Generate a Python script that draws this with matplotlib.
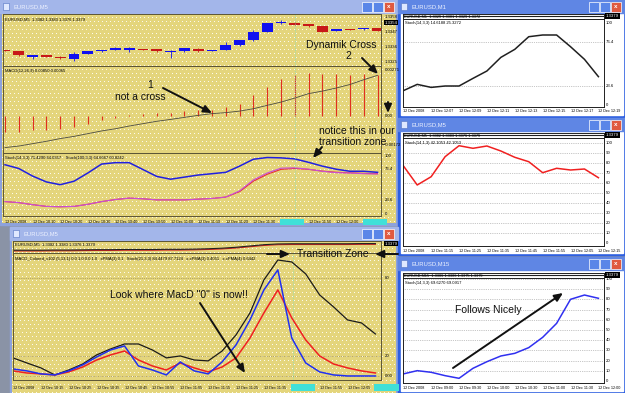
import numpy as np
import matplotlib.pyplot as plt
from matplotlib.patches import Rectangle

W, H = 625, 393
plt.rcParams['font.family'] = ['Liberation Sans', 'DejaVu Sans']

# ---------------- data ----------------
# top-left window, EURUSD M5 candles
c_open = [1.33338, 1.33328, 1.33289, 1.33297, 1.33289, 1.33272, 1.33309, 1.33326, 1.33338, 1.33338,
          1.33345, 1.33345, 1.33321, 1.33326, 1.33345, 1.33333, 1.33340, 1.33370, 1.33409, 1.33472,
          1.33534, 1.33534, 1.33524, 1.33509, 1.33477, 1.33490, 1.33487, 1.33497]
c_close = [1.33328, 1.33297, 1.33297, 1.33287, 1.33277, 1.33309, 1.33326, 1.33338, 1.33348, 1.33350,
           1.33340, 1.33326, 1.33328, 1.33350, 1.33326, 1.33338, 1.33375, 1.33411, 1.33472, 1.33534,
           1.33541, 1.33521, 1.33509, 1.33472, 1.33487, 1.33482, 1.33499, 1.33477]
c_high = [1.33340, 1.33330, 1.33297, 1.33299, 1.33290, 1.33321, 1.33328, 1.33340, 1.33362, 1.33358,
          1.33347, 1.33347, 1.33338, 1.33352, 1.33348, 1.33340, 1.33394, 1.33413, 1.33485, 1.33536,
          1.33558, 1.33538, 1.33526, 1.33511, 1.33489, 1.33492, 1.33501, 1.33499]
c_low = [1.33326, 1.33295, 1.33272, 1.33285, 1.33272, 1.33260, 1.33307, 1.33324, 1.33336, 1.33321,
         1.33338, 1.33324, 1.33277, 1.33324, 1.33324, 1.33326, 1.33338, 1.33368, 1.33405, 1.33470,
         1.33529, 1.33519, 1.33507, 1.33470, 1.33475, 1.33480, 1.33485, 1.33475]
price_ticks = [1.3358, 1.3347, 1.3336, 1.3325]
price_tick_labels = ['1.3358', '1.3347', '1.3336', '1.3325']

macd_hist = [-0.00096, -0.00094, -0.00084, -0.00084, -0.00075, -0.00065, -0.00045, -0.00026, -0.00010, 0.00004,
             0.00014, 0.00018, 0.00018, 0.00027, 0.00037, 0.00033, 0.00053, 0.00073, 0.00122, 0.00171,
             0.00220, 0.00240, 0.00253, 0.00249, 0.00245, 0.00240, 0.00245, 0.00240]
macd_signal = [-0.00186, -0.00177, -0.00163, -0.00149, -0.00133, -0.00120, -0.00104, -0.00088, -0.00075, -0.00059,
               -0.00045, -0.00031, -0.00020, -0.00008, 0.00004, 0.00014, 0.00020, 0.00029, 0.00043, 0.00063,
               0.00082, 0.00106, 0.00132, 0.00147, 0.00165, 0.00186, 0.00214, 0.00240]

stoch_fast = [84.5, 78, 64.9, 54.8, 50, 56, 70.2, 85.7, 88.1, 88.1, 76.2, 64.3, 59.5, 63.1, 66.7, 69, 71.4,
              82.1, 94, 97, 96.4, 94.6, 88.7, 82.1, 76.8, 73.2, 73.2, 71.4]
stoch_slow_main = [20.8, 19, 15.5, 12.5, 11.9, 12.5, 16.1, 20.8, 24.4, 26.8, 25.6, 23.8, 23.8, 23.8, 25, 26.2,
                   28.6, 39.3, 58.3, 70.2, 78.6, 79.2, 76.8, 73.2, 70.8, 70.2, 69, 68.5]
stoch_slow_sig = [20.8, 19, 15.5, 12.5, 11.9, 12.5, 16.1, 20.8, 24.4, 26.8, 25.6, 23.8, 23.8, 23.8, 25, 26.2,
                  28.6, 38, 56, 68, 76.5, 78, 76.5, 73.5, 71.5, 70.5, 69.5, 69]
w1_dates = ['12 Dec 2008', '12 Dec 10:10', '12 Dec 10:20', '12 Dec 10:30', '12 Dec 10:40', '12 Dec 10:50',
            '12 Dec 11:00', '12 Dec 11:10', '12 Dec 11:20', '12 Dec 11:30', '12 Dec 11:40', '12 Dec 11:50',
            '12 Dec 12:00', '12 Dec 12:10']

# bottom-left window, MACD colored / stoch overlay
w2_black = [18.5, 14.6, 10.8, 5.4, 9.2, 13.8, 20.8, 25.4, 29.2, 29.2, 24.6, 18.5, 20, 16.9, 16.2, 23.8, 36.2,
            53.1, 78.5, 93.8, 92.3, 83.1, 66.9, 57.7, 47.7, 45.4, 36.9]
w2_blue = [10, 8.5, 6.2, 5.4, 8.5, 13.1, 19.2, 24.6, 27.7, 12.3, 9.2, 5.4, 15.4, 8.5, 6.2, 15.4, 28.5, 47.7,
           70.8, 86.2, 33.8, 14.6, 7.7, 5.4, 4.6, 4.6, 4.6]
w2_red = [8.5, 6.9, 6.2, 5.4, 7.7, 11.5, 16.9, 20.8, 23.8, 16.9, 12.3, 9.2, 14.6, 10.8, 7.7, 11.5, 18.5, 33.8,
          53.1, 70.8, 49.2, 32.3, 20, 13.8, 10.8, 8.5, 6.9]
w2_price_black = [0, 0, 0, 0.1, 0.1, 0.2, 0.3, 0.3, 0.4, 0.4, 0.4, 0.5, 0.5, 0.6, 0.8, 1.1, 1.6, 2.3, 3.0,
                  3.4, 3.5, 3.5, 3.5, 3.5, 3.5, 3.6, 3.6]
w2_price_red = [-0.4, -0.4, -0.4, -0.3, -0.3, -0.2, -0.1, -0.1, 0, 0, 0, 0.1, 0.1, 0.2, 0.4, 0.7, 1.2, 1.9,
                2.6, 3.0, 3.1, 3.1, 3.1, 3.1, 3.1, 3.2, 3.2]
w2_dates = ['12 Dec 2008', '12 Dec 10:15', '12 Dec 10:25', '12 Dec 10:35', '12 Dec 10:45', '12 Dec 10:55',
            '12 Dec 11:05', '12 Dec 11:15', '12 Dec 11:25', '12 Dec 11:35', '12 Dec 11:45', '12 Dec 11:55',
            '12 Dec 12:05', '12 Dec 12:15']

# right column
m1_stoch = [17.5, 25.2, 21.5, 23.2, 23.2, 32.5, 41.5, 58.1, 67.9, 83.3, 85.4, 85.4, 71.1, 55.7, 34.6]
m1_dates = ['12 Dec 2008', '12 Dec 12:07', '12 Dec 12:09', '12 Dec 12:11', '12 Dec 12:13', '12 Dec 12:15',
            '12 Dec 12:17', '12 Dec 12:19']
m5_stoch = [77.6, 58.3, 66.6, 86.6, 97.6, 95, 97.3, 92.3, 86, 81.6, 70.6, 75, 73.3, 74.3, 65.6]
m5_dates = ['12 Dec 2008', '12 Dec 11:15', '12 Dec 11:25', '12 Dec 11:35', '12 Dec 11:45', '12 Dec 11:55',
            '12 Dec 12:05', '12 Dec 12:15']
m15_stoch = [6.9, 10.1, 8.5, 5.2, 2.6, 12.4, 18.9, 24.5, 27.1, 32.7, 42.8, 56.5, 80.1, 84.3, 81.1]
m15_dates = ['12 Dec 2008', '12 Dec 09:00', '12 Dec 09:30', '12 Dec 10:00', '12 Dec 10:30', '12 Dec 11:00',
             '12 Dec 11:30', '12 Dec 12:00']

YEL = np.array([228, 213, 124]) / 255
DOT = np.array([252, 250, 236]) / 255
OLIVE = '#5c5636'
DATE_FS = 2.7

fig = plt.figure(figsize=(W / 100, H / 100), dpi=100)
fig.patch.set_facecolor('#8a93a6')

bg = fig.add_axes([0, 0, 1, 1])
bg.axis('off')


def texture(x0, y0, x1, y1):
    h, w = y1 - y0, x1 - x0
    img = np.ones((h, w, 3)) * YEL
    yy, xx = np.mgrid[0:h, 0:w]
    dots = (yy % 4 == 0) & ((xx + (yy // 4) % 2 * 2) % 4 == 0)
    img[dots] = DOT
    bg.imshow(img, extent=(x0, x1, y1, y0), interpolation='nearest', aspect='auto', zorder=1)


def titlebar(x0, y0, x1, y1, name, color):
    bg.add_patch(Rectangle((x0, y0), x1 - x0, y1 - y0, color=color, zorder=2))
    bg.add_patch(Rectangle((x0 + 3, y0 + 3), 6, y1 - y0 - 6, fc='#dfe8ff', ec='#5070c0', lw=0.4, zorder=3))
    bg.text(x0 + 13, (y0 + y1) / 2, name, fontsize=4.2, color='#eef2ff', va='center', zorder=3)
    bs = y1 - y0 - 3
    for k, col in enumerate(['#5a86e8', '#5a86e8', '#e05a40']):
        bx = x1 - 3 - (3 - k) * (bs + 1)
        bg.add_patch(Rectangle((bx, y0 + 1.5), bs, bs, fc=col, ec='white', lw=0.5, zorder=3))
    bg.text(x1 - 3 - bs / 2 - 1, (y0 + y1) / 2, 'x', fontsize=4.5, color='white', ha='center',
            va='center', zorder=4, fontweight='bold')


# ---- window frames ----
# top-left
bg.add_patch(Rectangle((0, 0), 398, 225, color='#8da2dc', zorder=1))
texture(2, 13, 396, 223)
titlebar(0, 0, 398, 13, 'EURUSD,M5', '#a3b6ea')
# bottom-left
bg.add_patch(Rectangle((10, 227), 388, 166, color='#8da2dc', zorder=1))
texture(12, 240, 396, 393)
titlebar(10, 227, 398, 240, 'EURUSD,M5', '#a3b6ea')
# right column
for (y0, y1, nm) in [(0, 117, 'EURUSD,M1'), (118, 255, 'EURUSD,M5'), (257, 393, 'EURUSD,M15')]:
    bg.add_patch(Rectangle((398, y0), 227, y1 - y0, color='#2d5fe0', zorder=1))
    bg.add_patch(Rectangle((401, y0 + 13), 222, y1 - y0 - 15, color='white', zorder=1))
    titlebar(398, y0, 625, y0 + 13, nm, '#5f86e4')
bg.set_xlim(0, W)
bg.set_ylim(H, 0)


def pax(x0, y0, x1, y1, fc='none', ec=OLIVE):
    ax = fig.add_axes([x0 / W, 1 - y1 / H, (x1 - x0) / W, (y1 - y0) / H])
    ax.set_facecolor(fc)
    ax.set_xticks([])
    ax.set_yticks([])
    for s in ax.spines.values():
        s.set_color(ec)
        s.set_linewidth(0.7)
    return ax


def right_labels(ax, vals, labels, col='black'):
    for v, t in zip(vals, labels):
        ax.text(1.01, v, t, transform=ax.get_yaxis_transform(), fontsize=3.1, color=col, va='center')


def price_box(ax, v, t):
    ax.text(1.01, v, t, transform=ax.get_yaxis_transform(), fontsize=3.1, color='white', va='center',
            bbox=dict(boxstyle='square,pad=0.15', fc='black', ec='none'))


def date_row(ax, dates, y, cyan_idx=()):
    for k, t in enumerate(dates):
        cyan = k in cyan_idx
        ax.text(2 * k, y, t, transform=ax.get_xaxis_transform(), fontsize=DATE_FS, va='center',
                color='#40e0d8' if cyan else 'black',
                bbox=dict(boxstyle='square,pad=0.3', fc='#40e0d8', ec='none') if cyan else None)


# ---------------- top-left window ----------------
n1 = len(c_open)
x1 = np.arange(n1)
xl1 = (-0.145, 27.25)

a = pax(3, 14, 381, 66)
a.set_xlim(*xl1)
a.set_ylim(1.3322, 1.3360)
for i in range(n1):
    up = c_close[i] >= c_open[i]
    col = '#1010f0' if up else '#c81818'
    a.vlines(x1[i], c_low[i], c_high[i], color=col, lw=0.6)
    a.bar(x1[i], max(abs(c_close[i] - c_open[i]), 0.000015), bottom=min(c_open[i], c_close[i]),
          width=0.78, color=col)
a.axvline(21.0, color='#80e0c0', lw=0.6, ls=':')
a.text(0.005, 0.93, 'EURUSD,M5  1.3382 1.3383 1.3376 1.3379', transform=a.transAxes, fontsize=3, va='top')
right_labels(a, price_ticks, price_tick_labels)
price_box(a, 1.33536, '1.3354')

a = pax(3, 66, 381, 153)
a.set_xlim(*xl1)
a.set_ylim(-0.00218, 0.00295)
a.vlines(x1, 0, macd_hist, color='#e03020', lw=0.8)
a.plot(x1, macd_signal, color='#4a4a40', lw=0.6)
a.axvline(21.0, color='#80e0c0', lw=0.6, ls=':')
a.text(0.005, 0.965, 'MACD(12,26,9) 0.00850 0.00065', transform=a.transAxes, fontsize=3, va='top')
right_labels(a, [0.00271, 0, -0.00172], ['0.00271', '0.00', '-0.00172'])

a = pax(3, 153, 381, 216)
a.set_xlim(*xl1)
a.set_ylim(-4.1, 104.8)
a.plot(x1, stoch_slow_sig, color='#e83030', lw=0.8)
a.plot(x1, stoch_slow_main, color='#c850d8', lw=0.8)
a.plot(x1, stoch_fast, color='#2020e0', lw=1.1)
a.axvline(21.0, color='#80e0c0', lw=0.6, ls=':')
a.text(0.005, 0.95, 'Stoch(14,3,3) 71.4290 64.0357    Stoch(100,3,3) 64.6667 60.8242', transform=a.transAxes,
       fontsize=3, va='top')
right_labels(a, [100, 76.4, 23.6, 0], ['100', '76.4', '23.6', '0'])
date_row(a, w1_dates, -0.09, (10, 13))

# ---------------- bottom-left window ----------------
n2 = len(w2_black)
x2 = np.arange(n2)
xl2 = (0, 26.4)

a = pax(13, 241, 381, 253)
a.set_xlim(*xl2)
a.set_ylim(-1.5, 5)
a.plot(x2, w2_price_red, color='#d02020', lw=0.8)
a.plot(x2, w2_price_black, color='#202020', lw=0.8)
a.text(0.005, 0.85, 'EURUSD,M5  1.3382 1.3383 1.3376 1.3379', transform=a.transAxes, fontsize=3, va='top')
price_box(a, 3.5, '1.3379')

a = pax(13, 253, 381, 380)
a.set_xlim(*xl2)
a.set_ylim(1.5, 99.2)
for lv in (80, 20, 4.6):
    a.axhline(lv, color='#8a7c48', lw=0.5, ls=':')
a.axvline(20.1, color='#80e0c0', lw=0.6, ls=':')
a.plot(x2, w2_black, color='#1a1a1a', lw=0.9)
a.plot(x2, w2_red, color='#f02020', lw=1.1)
a.plot(x2, w2_blue, color='#2030f0', lw=1.1)
a.text(0.005, 0.965, 'MACD_Colored_v102 (5,13,1) 0.0 1.0 0.0 1.0   xPMA(3) 0.1   Stoch(21,3,3) 84.4479 87.7124'
       '   x.xPMA(3) 0.4051   x.xPMA(4) 0.6442', transform=a.transAxes, fontsize=3, va='top')
right_labels(a, [80, 20, 4.6], ['80', '20', '0.00'])
date_row(a, w2_dates, -0.06, (10, 13))


# ---------------- right column ----------------
def right_window(y0, y1, vals, dates, color, grid, ylim, ticks, tick_labels, title, ptitle):
    p = pax(403, y0 - 5, 604, y0, fc='white', ec='#202020')
    p.set_xlim(0, 14.4)
    p.set_ylim(0, 1)
    p.text(0.005, 0.5, ptitle, transform=p.transAxes, fontsize=2.8, va='center')
    p.axhline(0.6, color='#202020', lw=0.8)
    price_box(p, 0.6, '1.3379')
    ax = pax(403, y0, 604, y1, fc='white', ec='#202020')
    xs = np.arange(len(vals))
    ax.set_xlim(-0.02, 14.4)
    ax.set_ylim(*ylim)
    for g in grid:
        ax.axhline(g, color='#909090', lw=0.5, ls=':')
    ax.plot(xs, vals, color=color, lw=1.1)
    ax.text(0.01, 0.975, title, transform=ax.transAxes, fontsize=3, va='top')
    right_labels(ax, ticks, tick_labels)
    date_row(ax, dates, -0.05)
    return ax


right_window(19, 107, m1_stoch, m1_dates, '#202020', [76.4, 23.6], (-2.4, 104.9),
             [100, 76.4, 23.6, 0], ['100', '76.4', '23.6', '0'],
             'Stoch(14,3,3) 14.6188 25.3272', 'EURUSD,M1  1.3329 1.3381 1.3329 1.3372')
tens = list(range(0, 101, 10))
right_window(138, 246, m5_stoch, m5_dates, '#f02020', tens[1:], (-2.7, 105.3),
             tens, [str(v) for v in tens],
             'Stoch(14,1,3) 42.1053 42.1053', 'EURUSD,M5  1.3382 1.3383 1.3376 1.3379')
right_window(278, 383, m15_stoch, m15_dates, '#3030f0', tens[1:], (-2.0, 101.0),
             tens, [str(v) for v in tens],
             'Stoch(14,3,3) 69.6270 69.0917', 'EURUSD,M15  1.3386 1.3386 1.3375 1.3379')

# ---------------- annotations ----------------
ov = fig.add_axes([0, 0, 1, 1])
ov.set_xlim(0, W)
ov.set_ylim(H, 0)
ov.axis('off')
ov.patch.set_alpha(0)

FS = 7.5
ov.text(341, 45, 'Dynamik Cross', fontsize=FS, ha='center', va='center', color='#111111')
ov.text(348, 56, '2', fontsize=FS, ha='center', va='center', color='#111111')
ov.text(150, 85, '1', fontsize=FS, ha='center', va='center', color='#111111')
ov.text(140, 97, 'not a cross', fontsize=FS, ha='center', va='center', color='#111111')
ov.text(319, 131, 'notice this in our', fontsize=FS, ha='left', va='center', color='#111111')
ov.text(319, 142, 'transition zone', fontsize=FS, ha='left', va='center', color='#111111')
ov.text(297, 254, 'Transition Zone', fontsize=FS, ha='left', va='center', color='#111111')
ov.text(110, 295, 'Look where MacD "0" is now!!', fontsize=FS, ha='left', va='center', color='#111111')
ov.text(455, 310, 'Follows Nicely', fontsize=FS, ha='left', va='center', color='#111111')

arrows = [((362, 58), (378, 74)), ((163, 88), (212, 113)), ((322, 147), (313, 158)),
          ((388, 102), (388, 113)), ((267, 254), (290, 254)), ((398, 254), (375, 254)),
          ((200, 303), (245, 373)), ((453, 368), (563, 293))]
for s, e in arrows:
    ov.annotate('', xy=e, xytext=s,
                arrowprops=dict(arrowstyle='-|>,head_length=0.5,head_width=0.22', color='#111111', lw=1.4,
                                shrinkA=0, shrinkB=0))

fig.savefig('out.png', dpi=100)
